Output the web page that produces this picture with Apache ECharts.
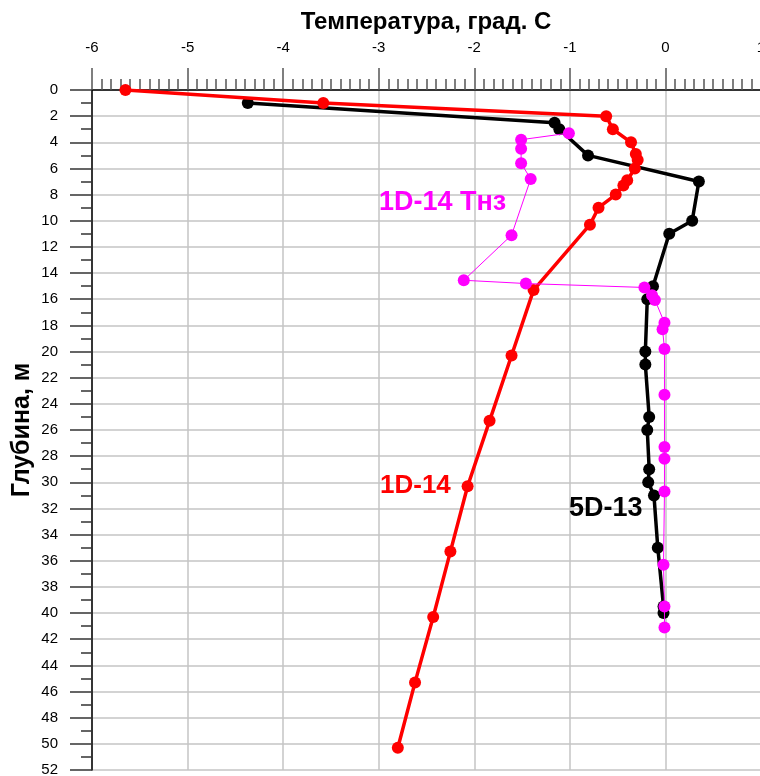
<!DOCTYPE html>
<html>
<head>
<meta charset="utf-8">
<script src="https://cdn.jsdelivr.net/npm/echarts@6/dist/echarts.min.js"></script>
<style>html,body{margin:0;padding:0;background:#fff}#c{width:760px;height:776px}</style>
</head>
<body>
<div id="c"></div>
<script>
// 1D-14 (red)
const red_depth = [0, 1, 2, 3, 4, 4.9, 5.35, 6.0, 6.9, 7.3, 8.0, 9.0, 10.3, 15.3, 20.3, 25.3, 30.3, 35.3, 40.3, 45.3, 50.3];
const red_temp  = [-5.65, -3.58, -0.62, -0.55, -0.36, -0.31, -0.29, -0.32, -0.40, -0.44, -0.52, -0.70, -0.79, -1.38, -1.61, -1.84, -2.07, -2.25, -2.43, -2.62, -2.80];
// 5D-13 (black)
const blk_depth = [1, 2.5, 3.0, 5.0, 7.0, 10.0, 11.0, 15.0, 16.0, 20, 21, 25, 26, 29, 30, 31, 35, 39.5, 40];
const blk_temp  = [-4.37, -1.16, -1.11, -0.81, 0.35, 0.28, 0.04, -0.13, -0.19, -0.21, -0.21, -0.17, -0.19, -0.17, -0.18, -0.12, -0.08, -0.02, -0.02];
// 1D-14 Тнз (magenta)
const mag_depth = [3.3, 3.8, 4.5, 5.6, 6.8, 11.1, 14.55, 14.8, 15.1, 15.7, 16.05, 17.8, 18.3, 19.8, 23.3, 27.3, 28.2, 30.7, 36.3, 39.5, 41.1];
const mag_temp  = [-1.01, -1.51, -1.51, -1.51, -1.41, -1.61, -2.11, -1.46, -0.22, -0.14, -0.11, -0.01, -0.03, -0.01, -0.01, -0.01, -0.01, -0.01, -0.02, -0.01, -0.01];

const xTitle = 'Температура, град. С';
const yTitle = 'Глубина, м';
const seriesNames = ['5D-13', '1D-14', '1D-14 Тнз'];

const pairs = (t, d) => t.map((v, i) => [v, d[i]]);
const FONT = '"Liberation Sans", Arial, sans-serif';

const txt = (text, fill, size) => ({text: text, fill: fill, fontSize: size, fontWeight: 'bold', fontFamily: FONT, lineWidth: 0, stroke: 'none'});

const chart = echarts.init(document.getElementById('c'), null, {renderer: 'canvas'});
chart.setOption({
  animation: false,
  backgroundColor: '#fff',
  grid: {left: 92, top: 90, width: 669, height: 680, containLabel: false, outerBoundsMode: 'none'},
  xAxis: {
    type: 'value', position: 'top', min: -6, max: 1, interval: 1,
    axisLine: {show: true, onZero: false, lineStyle: {color: '#000', width: 1.5}},
    axisTick: {show: true, inside: false, length: 22, lineStyle: {color: '#555', width: 1.5}},
    minorTick: {show: true, splitNumber: 10, length: 11, lineStyle: {color: '#555', width: 1.5}},
    axisLabel: {margin: 35, color: '#000', fontSize: 15, fontFamily: FONT},
    splitLine: {show: true, lineStyle: {color: '#c4c4c4', width: 1.5}},
    minorSplitLine: {show: false}
  },
  yAxis: {
    type: 'value', inverse: true, min: 0, max: 52, interval: 2,
    axisLine: {show: true, onZero: false, lineStyle: {color: '#000', width: 1.5}},
    axisTick: {show: true, inside: false, length: 22, lineStyle: {color: '#333', width: 1.5}},
    minorTick: {show: true, splitNumber: 2, length: 11, lineStyle: {color: '#333', width: 1.5}},
    axisLabel: {margin: 34, color: '#000', fontSize: 15, fontFamily: FONT},
    splitLine: {show: true, lineStyle: {color: '#c4c4c4', width: 1.5}}
  },
  series: [
    {name: seriesNames[0], type: 'line', data: pairs(blk_temp, blk_depth), z: 2,
     lineStyle: {color: '#000', width: 3.5}, itemStyle: {color: '#000'},
     symbol: 'circle', symbolSize: 12, showAllSymbol: true},
    {name: seriesNames[1], type: 'line', data: pairs(red_temp, red_depth), z: 3,
     lineStyle: {color: '#ff0000', width: 3.5}, itemStyle: {color: '#ff0000'},
     symbol: 'circle', symbolSize: 12, showAllSymbol: true},
    {name: seriesNames[2], type: 'line', data: pairs(mag_temp, mag_depth), z: 4,
     lineStyle: {color: '#ff00ff', width: 1}, itemStyle: {color: '#ff00ff'},
     symbol: 'circle', symbolSize: 12, showAllSymbol: true}
  ],
  graphic: [
    {type: 'text', z: 100, x: 426, y: 22, style: Object.assign(txt(xTitle, '#000', 24), {align: 'center', verticalAlign: 'middle'})},
    {type: 'text', z: 100, x: 22, y: 430, rotation: Math.PI / 2, style: Object.assign(txt(yTitle, '#000', 25), {align: 'center', verticalAlign: 'middle'})},
    {type: 'text', z: 100, x: 379, y: 203, style: Object.assign(txt(seriesNames[2], '#ff00ff', 27), {align: 'left', verticalAlign: 'middle'})},
    {type: 'text', z: 100, x: 380, y: 486, style: Object.assign(txt(seriesNames[1], '#ff0000', 26), {align: 'left', verticalAlign: 'middle'})},
    {type: 'text', z: 100, x: 569, y: 509, style: Object.assign(txt(seriesNames[0], '#000', 27), {align: 'left', verticalAlign: 'middle'})}
  ]
});
</script>
</body>
</html>
